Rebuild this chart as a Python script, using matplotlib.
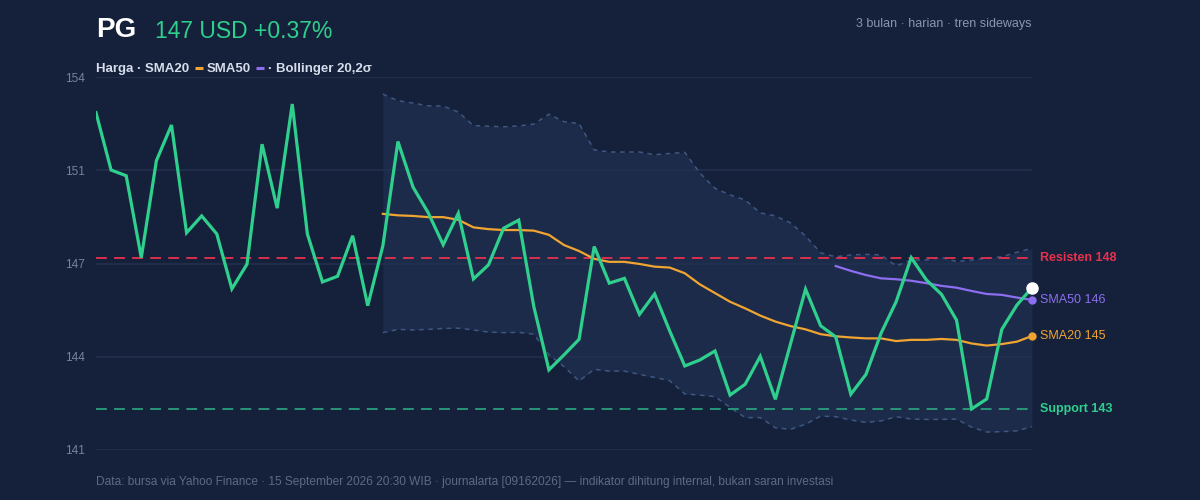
import numpy as np
import matplotlib
matplotlib.use('Agg')
import matplotlib.pyplot as plt
from matplotlib.lines import Line2D

plt.rcParams['font.family'] = ['Liberation Sans', 'DejaVu Sans']

# --- data ---
ticker = 'PG'
headline = '147 USD +0.37%'
subtitle = '3 bulan · harian · tren sideways'
footer = ('Data: bursa via Yahoo Finance · 15 September 2026 20:30 WIB · journalarta [09162026]'
          ' — indikator dihitung internal, bukan saran investasi')

price = [152.49, 150.58, 150.39, 147.66, 150.89, 152.08, 148.49, 149.05, 148.45, 146.62,
         147.44, 151.44, 149.31, 152.78, 148.45, 146.85, 147.04, 148.39, 146.06, 148.05,
         151.53, 150.01, 149.16, 148.09, 149.14, 146.95, 147.42, 148.64, 148.91, 146.03,
         143.92, 144.42, 144.94, 148.03, 146.81, 146.97, 145.77, 146.45, 145.22, 144.05,
         144.25, 144.55, 143.08, 143.44, 144.37, 142.94, 144.78, 146.61, 145.39, 145.02,
         143.11, 143.77, 145.14, 146.19, 147.66, 146.92, 146.44, 145.58, 142.62, 142.95,
         145.27, 146.08, 146.66]

# SMA20 and Bollinger start at day 19, SMA50 at day 49
sma20 = [149.12, 149.07, 149.05, 149.01, 149.01, 148.92, 148.67, 148.61, 148.58, 148.58,
         148.56, 148.42, 148.08, 147.88, 147.62, 147.52, 147.52, 147.45, 147.36, 147.33,
         147.14, 146.77, 146.48, 146.19, 145.97, 145.73, 145.53, 145.38, 145.27, 145.11,
         145.04, 145.00, 144.97, 144.97, 144.88, 144.92, 144.92, 144.95, 144.92, 144.80,
         144.73, 144.78, 144.86, 145.05]
sma50 = [147.38, 147.22, 147.08, 146.97, 146.94, 146.89, 146.81, 146.72, 146.66, 146.55,
         146.45, 146.42, 146.33, 146.25]
bb_upper = [153.11, 152.89, 152.81, 152.72, 152.71, 152.51, 152.06, 152.04, 152.02, 152.05,
            152.11, 152.44, 152.19, 152.13, 151.25, 151.18, 151.18, 151.18, 151.09, 151.13,
            151.17, 150.48, 149.97, 149.75, 149.58, 149.15, 149.05, 148.82, 148.38, 147.82,
            147.69, 147.75, 147.77, 147.75, 147.38, 147.58, 147.58, 147.67, 147.53, 147.58,
            147.64, 147.69, 147.84, 147.97]
bb_lower = [145.16, 145.27, 145.25, 145.27, 145.30, 145.31, 145.25, 145.18, 145.16, 145.17,
            145.11, 144.42, 144.03, 143.55, 143.94, 143.88, 143.88, 143.77, 143.67, 143.56,
            143.12, 143.08, 143.03, 142.67, 142.33, 142.33, 141.99, 141.94, 142.11, 142.38,
            142.36, 142.25, 142.17, 142.22, 142.36, 142.28, 142.27, 142.27, 142.28, 142.01,
            141.85, 141.86, 141.89, 142.03]
resistance = 147.66
support = 142.62
y_lo, y_hi = 141.25, 153.68

# --- colours ---
BG = '#15213a'
BAND = '#1c2b49'
GRID = '#22304e'
GREEN = '#2fcf8e'
ORANGE = '#f0a432'
PURPLE = '#8d6ef0'
RED = '#e8304d'
SUP = '#2b9f7d'
BANDLINE = '#3d5782'
TICK = '#76839c'
TEXT = '#d5dceb'

x = np.arange(len(price))
x20 = np.arange(19, 19 + len(sma20))
x50 = np.arange(49, 49 + len(sma50))

fig = plt.figure(figsize=(12, 5), dpi=100, facecolor=BG)
ax = fig.add_axes([0.08, 0.10, 0.78, 0.746], facecolor=BG)

ax.fill_between(x20, bb_lower, bb_upper, color=BAND, lw=0, zorder=0.2)
ax.plot(x20, bb_upper, color=BANDLINE, lw=1.1, dashes=(3, 3), zorder=1)
ax.plot(x20, bb_lower, color=BANDLINE, lw=1.1, dashes=(3, 3), zorder=1)

ax.axhline(resistance, color=RED, lw=1.3, dashes=(6, 4), zorder=1.5)
ax.axhline(support, color=SUP, lw=1.3, dashes=(6, 4), zorder=1.5)

ax.plot(x20, sma20, color=ORANGE, lw=1.6, zorder=2)
ax.plot(x50, sma50, color=PURPLE, lw=1.6, zorder=2)
ax.plot(x, price, color=GREEN, lw=2.3, zorder=3, solid_joinstyle='miter')

ax.plot(x[-1], price[-1], 'o', color='white', ms=8, zorder=5, clip_on=False)
ax.plot(x50[-1], sma50[-1], 'o', color=PURPLE, ms=5, zorder=4, clip_on=False)
ax.plot(x20[-1], sma20[-1], 'o', color=ORANGE, ms=5, zorder=4, clip_on=False)

ax.annotate('Resisten 148', (x[-1], resistance), xytext=(6, 0), textcoords='offset points',
            va='center', ha='left', color=RED, fontsize=9, fontweight='bold')
ax.annotate('SMA50 146', (x50[-1], sma50[-1]), xytext=(6, 0), textcoords='offset points',
            va='center', ha='left', color=PURPLE, fontsize=9)
ax.annotate('SMA20 145', (x20[-1], sma20[-1]), xytext=(6, 0), textcoords='offset points',
            va='center', ha='left', color=ORANGE, fontsize=9)
ax.annotate('Support 143', (x[-1], support), xytext=(6, 0), textcoords='offset points',
            va='center', ha='left', color=GREEN, fontsize=9, fontweight='bold')

ax.set_xlim(0, len(price) - 1)
ax.set_ylim(y_lo, y_hi)
ax.set_yticks(np.linspace(y_lo, y_hi, 5))
ax.set_yticklabels(['%.0f' % v for v in np.linspace(y_lo, y_hi, 5)])
ax.set_xticks([])
ax.tick_params(axis='y', length=0, pad=8, labelsize=8.5, labelcolor=TICK)
ax.grid(axis='y', color=GRID, lw=1.2)
ax.set_axisbelow(True)
for s in ax.spines.values():
    s.set_visible(False)

# header (baselines)
fig.text(0.08, 1 - 37 / 500, ticker, color='white', fontsize=20, fontweight='bold', va='baseline')
fig.text(0.129, 1 - 37.5 / 500, headline, color=GREEN, fontsize=16.5, va='baseline')
fig.text(0.86, 1 - 26.5 / 500, subtitle, color='#8a96ad', fontsize=9, ha='right', va='baseline')

# legend row
lb = 1 - 72 / 500
ly = 1 - 68 / 500
fig.text(0.08, lb, 'Harga · SMA20', color=TEXT, fontsize=9.5, fontweight='bold', va='baseline')
fig.add_artist(Line2D([195 / 1200, 203 / 1200], [ly, ly], color=ORANGE, lw=2.2,
                      solid_capstyle='butt'))
fig.text(207 / 1200, lb, 'SMA50', color=TEXT, fontsize=9.5, fontweight='bold', va='baseline')
fig.add_artist(Line2D([256 / 1200, 264 / 1200], [ly, ly], color=PURPLE, lw=2.2,
                      solid_capstyle='butt'))
fig.text(268 / 1200, lb, '· Bollinger 20,2σ', color=TEXT, fontsize=9.5, fontweight='bold', va='baseline')

fig.text(0.08, 1 - 485 / 500, footer, color='#5c6a86', fontsize=8.55, va='baseline')

fig.savefig('out.png', dpi=100, facecolor=BG)
